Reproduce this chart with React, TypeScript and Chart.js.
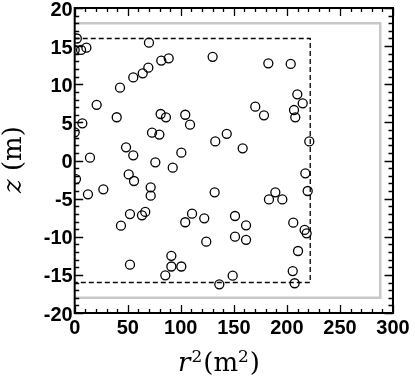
import React, { useEffect, useRef } from 'react';
import { Chart, registerables } from 'chart.js';

Chart.register(...registerables);

// event positions: r^2 (m^2) and z (m)
const rSquared = [
  2, 0, 6, 11, 20.7, 42.7, 39.6, 7.2, 0, 55.2,
  70, 64.1, 69.4, 81.6, 88.6, 130, 182.5, 81, 86, 104.2,
  108.7, 170.2, 178.4, 72.9, 79.8, 132.5, 143.3, 203.6, 209.8, 214.9,
  206.7, 207.9, 221.1, 14.4, 1.2, 12.5, 27, 48.4, 55.2, 50.9,
  55.9, 52.1, 63.4, 66.5, 43.6, 52.1, 158.3, 100.5, 76, 92.4,
  71.6, 71.6, 131.9, 183.1, 104.2, 110.6, 122.1, 151.1, 161.5, 151.1,
  161.5, 124, 91.1, 91.1, 100.5, 217.4, 219.6, 189.1, 195.7, 206,
  216.7, 218.6, 210.5, 205.5, 207.3, 85.4, 136.3, 148.9,
];
const zValues = [
  16, 14.5, 14.5, 14.8, 7.3, 9.55, 5.67, 4.87, 3.7, 10.9,
  15.45, 11.43, 12.17, 13.1, 13.4, 13.6, 12.75, 6.1, 5.66, 6.0,
  4.7, 7.06, 5.93, 3.65, 3.4, 2.5, 3.5, 12.66, 8.68, 7.5,
  6.62, 5.66, 2.5, 0.37, -2.43, -4.44, -3.78, 1.73, 0.68, -1.82,
  -2.69, -7.02, -7.19, -6.75, -8.55, -13.66, 1.6, 1.02, -0.24, -0.94,
  -3.52, -4.61, -4.17, -5.1, -8.1, -6.98, -7.58, -7.28, -8.5, -9.99,
  -10.4, -10.65, -12.5, -13.9, -13.9, -1.68, -4.0, -4.17, -5.1, -8.15,
  -9.1, -9.55, -11.87, -14.5, -16.1, -15.06, -16.24, -15.1,
];

// fiducial volume (dashed) and vessel outline (grey)
const fiducialR2 = [0, 222, 222, 0];
const fiducialZ = [16, 16, -16, -16];
const vesselR2 = [0, 288, 288, 0];
const vesselZ = [18, 18, -18, -18];

// axis ranges and ticks
const xRange = [0, 300];
const yRange = [-20, 20];
const xMajorStep = 50;
const xMinorStep = 10;
const yMajorStep = 5;
const yMinorStep = 1;

const toPoints = (xs: number[], ys: number[]) => xs.map((x, i) => ({ x, y: ys[i] }));

const framePlugin = {
  id: 'frameTicks',
  afterDraw(chart: any) {
    const { ctx, chartArea } = chart;
    const xs = chart.scales.x;
    const ys = chart.scales.y;
    const { left, right, top, bottom } = chartArea;
    ctx.save();
    ctx.strokeStyle = '#000';
    ctx.lineWidth = 1.3;
    ctx.beginPath();
    for (let v = xRange[0]; v <= xRange[1] + 1e-9; v += xMinorStep) {
      const major = Math.abs(v % xMajorStep) < 1e-9;
      const len = major ? 8 : 4;
      const px = Math.round(xs.getPixelForValue(v)) + 0.5;
      ctx.moveTo(px, bottom);
      ctx.lineTo(px, bottom - len);
      ctx.moveTo(px, top);
      ctx.lineTo(px, top + len);
    }
    for (let v = yRange[0]; v <= yRange[1] + 1e-9; v += yMinorStep) {
      const major = Math.abs(v % yMajorStep) < 1e-9;
      const len = major ? 8.5 : 4.5;
      const py = Math.round(ys.getPixelForValue(v)) + 0.5;
      ctx.moveTo(left, py);
      ctx.lineTo(left + len, py);
      ctx.moveTo(right, py);
      ctx.lineTo(right - len, py);
    }
    ctx.stroke();
    ctx.lineWidth = 2;
    ctx.strokeRect(left, top, right - left, bottom - top);

    ctx.fillStyle = '#000';
    ctx.textBaseline = 'alphabetic';
    ctx.textAlign = 'left';
    const big = '26px "DejaVu Serif"';
    const bigIt = 'italic 26px "DejaVu Serif"';
    const sup = '17px "DejaVu Serif"';

    let x = 178;
    const base = 371;
    ctx.font = bigIt;
    ctx.fillText('r', x, base);
    x += ctx.measureText('r').width + 1;
    ctx.font = sup;
    ctx.fillText('2', x, base - 9);
    x += ctx.measureText('2').width + 1;
    ctx.font = big;
    ctx.fillText('(m', x, base);
    x += ctx.measureText('(m').width;
    ctx.font = sup;
    ctx.fillText('2', x, base - 9);
    x += ctx.measureText('2').width + 1;
    ctx.font = big;
    ctx.fillText(')', x, base);

    ctx.translate(21, 193);
    ctx.rotate(-Math.PI / 2);
    ctx.font = bigIt;
    ctx.fillText('z', 0, 0);
    const w = ctx.measureText('z').width;
    ctx.font = big;
    ctx.fillText(' (m)', w, 0);
    ctx.restore();
  },
};

export default function App() {
  const ref = useRef<HTMLCanvasElement | null>(null);

  useEffect(() => {
    if (!ref.current) return;
    const tickFont = { family: 'Liberation Sans', weight: 700, size: 20, lineHeight: 1 };
    const chart = new Chart(ref.current, {
      type: 'scatter',
      data: {
        datasets: [
          {
            label: 'events',
            data: toPoints(rSquared, zValues),
            pointStyle: 'circle',
            pointRadius: 4.5,
            pointHoverRadius: 4.5,
            borderColor: '#000',
            backgroundColor: 'rgba(0,0,0,0)',
            borderWidth: 1.3,
            order: 0,
          },
          {
            label: 'fiducial',
            data: toPoints(fiducialR2, fiducialZ),
            showLine: true,
            borderColor: '#000',
            borderWidth: 1.3,
            borderDash: [5, 3],
            pointRadius: 0,
            fill: false,
            order: 1,
          },
          {
            label: 'vessel',
            data: toPoints(vesselR2, vesselZ),
            showLine: true,
            borderColor: '#c8c8c8',
            borderWidth: 2.5,
            pointRadius: 0,
            fill: false,
            order: 2,
          },
        ],
      },
      options: {
        animation: false,
        responsive: false,
        devicePixelRatio: 1,
        layout: { padding: { top: 8, right: 22, left: 0, bottom: 0 } },
        plugins: { legend: { display: false }, tooltip: { enabled: false } },
        scales: {
          x: {
            type: 'linear',
            min: xRange[0],
            max: xRange[1],
            grid: { display: false, drawTicks: false },
            border: { display: false },
            ticks: {
              stepSize: xMajorStep,
              autoSkip: false,
              maxRotation: 0,
              padding: 5,
              color: '#000',
              font: tickFont,
            },
            afterFit: (s: any) => {
              s.height = 73;
              s.paddingLeft = 0;
              s.paddingRight = 0;
              s.paddingTop = 0;
              s.paddingBottom = 0;
            },
          },
          y: {
            type: 'linear',
            min: yRange[0],
            max: yRange[1],
            grid: { display: false, drawTicks: false },
            border: { display: false },
            ticks: {
              stepSize: yMajorStep,
              autoSkip: false,
              padding: 2,
              labelOffset: 2,
              color: '#000',
              font: tickFont,
            },
            afterFit: (s: any) => {
              s.width = 74.7;
              s.paddingLeft = 0;
              s.paddingRight = 0;
              s.paddingTop = 0;
              s.paddingBottom = 0;
            },
          },
        },
      },
      plugins: [framePlugin],
    });
    return () => chart.destroy();
  }, []);

  return (
    <div style={{ position: 'absolute', left: 0, top: 0, width: 415, height: 386, background: '#fff' }}>
      <canvas ref={ref} width={415} height={386} style={{ width: 415, height: 386 }} />
    </div>
  );
}
